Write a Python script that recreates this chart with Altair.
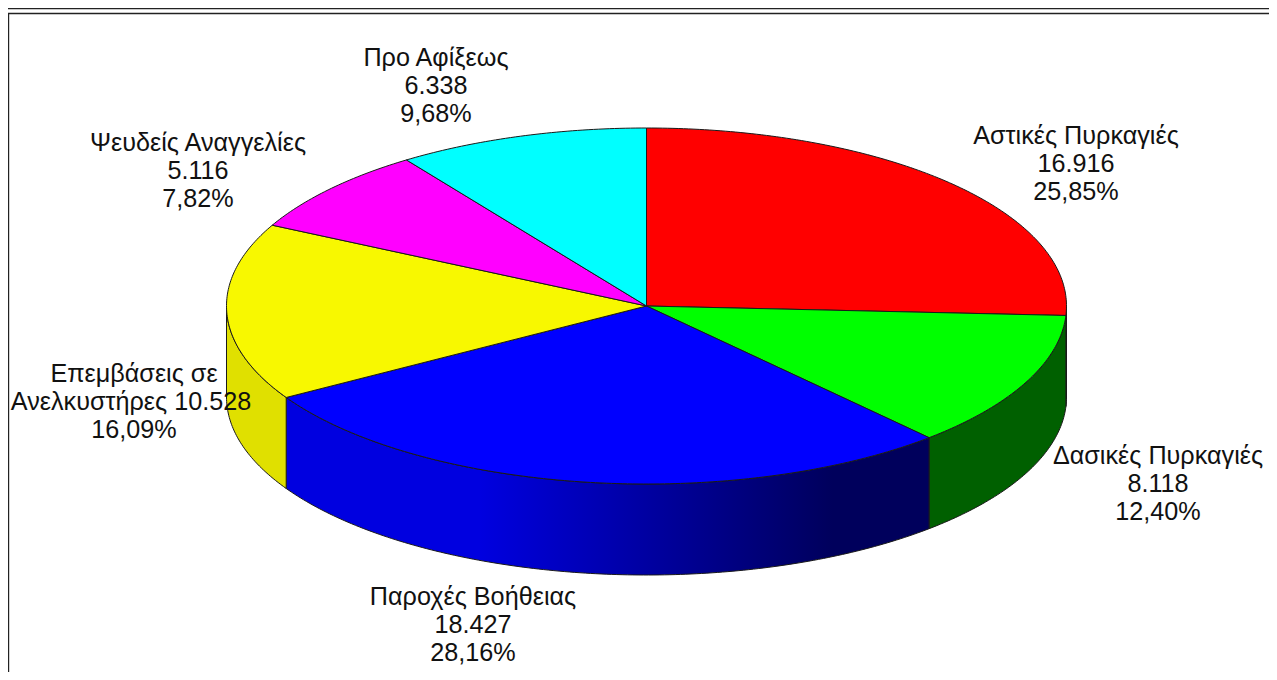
import math
import altair as alt
import pandas as pd

categories = ["Αστικές Πυρκαγιές", "Δασικές Πυρκαγιές", "Παροχές Βοήθειας",
              "Επεμβάσεις σε Ανελκυστήρες", "Ψευδείς Αναγγελίες", "Προ Αφίξεως"]
values = [16916, 8118, 18427, 10528, 5116, 6338]
value_text = ["16.916", "8.118", "18.427", "10.528", "5.116", "6.338"]
percent_text = ["25,85%", "12,40%", "28,16%", "16,09%", "7,82%", "9,68%"]
top_colors = ["#ff0000", "#00ff00", "#0000ff", "#f8f800", "#ff00ff", "#00ffff"]
side_colors = ["#006000", "#006000", None, "#e0e000", "#000000", "#000000"]

MARGIN, RIGHT, BOTTOM = 8, 1269, 672
CX, CY, RX, RY, DEPTH = 646.5, 306.0, 420.0, 178.0, 91.0

total = sum(values)
edges = [0.0]
for v in values:
    edges.append(edges[-1] + v / total)


def ell(frac, drop=0.0):
    a = 2 * math.pi * frac
    return CX + RX * math.sin(a), CY - RY * math.cos(a) + drop


def fracs(a, b, step=0.002):
    n = max(2, int((b - a) / step))
    return [a + (b - a) * i / n for i in range(n + 1)]


# Scales take the reference's page pixels, the chart itself starts after the page margin
x_scale = alt.Scale(domain=[MARGIN, RIGHT], range=[0, RIGHT - MARGIN], nice=False, zero=False)
y_scale = alt.Scale(domain=[MARGIN, BOTTOM], range=[0, BOTTOM - MARGIN], nice=False, zero=False)
X = alt.X("x:Q", scale=x_scale, axis=None)
Y = alt.Y("y:Q", scale=y_scale, axis=None)


def poly(points, color, stroke="#1a1a1a", sw=1.0):
    df = pd.DataFrame({"x": [p[0] for p in points], "y": [p[1] for p in points],
                       "o": range(len(points))})
    return alt.Chart(df).mark_line(fill=color, stroke=stroke, strokeWidth=sw,
                                   strokeJoin="round").encode(x=X, y=Y, order="o:Q")


blue_wall = alt.Gradient(
    gradient="linear", x1=0, x2=1, y1=0, y2=0,
    stops=[alt.GradientStop(color="#0000e0", offset=0.0),
           alt.GradientStop(color="#0000e0", offset=0.3),
           alt.GradientStop(color="#00005c", offset=0.85),
           alt.GradientStop(color="#00005c", offset=1.0)],
)

layers = []

# Frame (what lies above or left of the page margin cannot be drawn there, so it sits at the margin)
frame = pd.DataFrame([
    {"x": MARGIN, "x2": RIGHT, "y": MARGIN + 0.5, "y2": MARGIN + 0.5},
    {"x": MARGIN, "x2": RIGHT, "y": 13.5, "y2": 13.5},
    {"x": MARGIN + 0.5, "x2": MARGIN + 0.5, "y": 13.5, "y2": BOTTOM},
])
layers.append(alt.Chart(frame).mark_rule(color="#222222", strokeWidth=1.4).encode(
    x=X, x2="x2:Q", y=Y, y2="y2:Q"))

# Side wall: only the front half of the ellipse shows (fraction 0.25 .. 0.75)
for i in range(len(values)):
    a, b = max(edges[i], 0.25), min(edges[i + 1], 0.75)
    if b <= a:
        continue
    arc = fracs(a, b)
    outline = [ell(f) for f in arc] + [ell(f, DEPTH) for f in reversed(arc)]
    outline.append(outline[0])
    layers.append(poly(outline, side_colors[i] or blue_wall))

# Top face
for i in range(len(values)):
    pts = [(CX, CY)] + [ell(f) for f in fracs(edges[i], edges[i + 1])] + [(CX, CY)]
    layers.append(poly(pts, top_colors[i]))

# Labels
label_lines = [
    [categories[0], value_text[0], percent_text[0]],
    [categories[1], value_text[1], percent_text[1]],
    [categories[2], value_text[2], percent_text[2]],
    ["Επεμβάσεις σε", "Ανελκυστήρες " + value_text[3], percent_text[3]],
    [categories[4], value_text[4], percent_text[4]],
    [categories[5], value_text[5], percent_text[5]],
]
label_pos = [(1076, 135.5), (1158, 455.5), (473, 596.5), (134, 373.5), (198, 142.5), (436, 57.5)]
rows = []
for lines, (lx, ly) in zip(label_lines, label_pos):
    for k, line in enumerate(lines):
        # the wrapped line of the lift label sits a little left of the other two
        nudge = -3 if line.startswith("Ανελκυστήρες") else 0
        rows.append({"x": lx + nudge, "y": ly + k * 28.3, "t": line})
layers.append(alt.Chart(pd.DataFrame(rows)).mark_text(
    font="Liberation Sans", fontSize=25.2, color="#111111", align="center", baseline="middle"
).encode(x=X, y=Y, text="t:N"))

chart = alt.layer(*layers).properties(
    width=RIGHT - MARGIN, height=BOTTOM - MARGIN,
    padding={"left": 0, "top": 0, "right": 0, "bottom": 0},
    autosize=alt.AutoSizeParams(type="none"),
).configure_view(stroke=None)

chart.save("out.html", embed_options={"renderer": "svg", "actions": False})
